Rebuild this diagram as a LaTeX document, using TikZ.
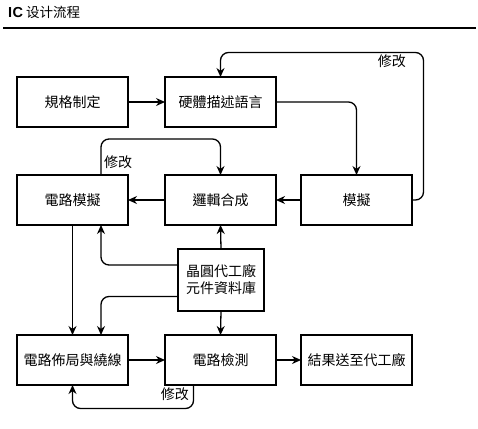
\documentclass[tikz,border=0pt]{standalone}
\usepackage{fontspec}
\setmainfont{Noto Sans CJK TC}
\newfontfamily\titlecjk{Noto Sans CJK SC}
\newfontfamily\titlelat{Liberation Sans}
\usetikzlibrary{arrows.meta}

\begin{document}
\begin{tikzpicture}[
        x=1pt,
        y=-1pt,
        block/.style={
            rectangle,
            draw,
            line width=1.4pt,
            align=center,
            minimum width=111pt,
            minimum height=50pt,
            font=\fontsize{14}{17}\selectfont,
            inner sep=2pt,
            outer sep=0pt
        },
        arrow/.style={
            -{Stealth[length=9pt,width=8pt]},
            line width=1.3pt,
            rounded corners=8pt
        },
        note/.style={
            font=\fontsize{14}{17}\selectfont,
            inner sep=0pt
        }
    ]

        \useasboundingbox (0,0) rectangle (478,428);

        \node[anchor=base west, inner sep=0pt] (title) at (8,18)
            {\titlelat\fontsize{14.5}{16}\selectfont\bfseries I\kern0.5pt C\kern3pt\titlecjk\fontsize{13.5}{15}\selectfont\mdseries 设计流程};
        \draw[line width=2pt] (3,28) -- (476,28);

        \node[block] (spec) at (72.5,102) {規格制定};
        \node[block] (hdl) at (220.5,102) {硬體描述語言};
        \node[block] (csim) at (72.5,200) {電路模擬};
        \node[block] (synth) at (220.5,200) {邏輯合成};
        \node[block] (sim) at (356.5,200) {模擬};
        \node[block, minimum width=86pt, minimum height=62pt] (fab) at (221,280) {晶圓代工廠\\元件資料庫};
        \node[block] (layout) at (72.5,360) {電路佈局與繞線};
        \node[block] (check) at (220.5,360) {電路檢測};
        \node[block] (result) at (356.5,360) {結果送至代工廠};

        \draw[arrow] (spec.east) -- (hdl.west);
        \draw[arrow] (hdl.east) -| (sim.north);
        \draw[arrow] (sim.east) -| (423.5,52.5) -| (hdl.north);
        \node[note, anchor=east] (fix1) at (406,61) {修改};
        \draw[arrow] (sim.west) -- (synth.east);
        \draw[arrow] (synth.west) -- (csim.east);
        \draw[arrow] ([xshift=28.5pt]csim.north) |- (180,139) -| (synth.north);
        \node[note, anchor=west] (fix2) at (104,162) {修改};

        \draw[arrow] (csim.south) -- (layout.north);
        \draw[arrow] ([yshift=15pt]fab.west) -| ([xshift=28.5pt]csim.south);
        \draw[arrow] ([yshift=-16.5pt]fab.west) -| ([xshift=28.5pt]layout.north);
        \draw[arrow] (fab.north) -- (synth.south);
        \draw[arrow] (fab.south) -- (check.north);

        \draw[arrow] (layout.east) -- (check.west);
        \draw[arrow] (check.east) -- (result.west);
        \draw[arrow] ([xshift=-27pt]check.south) |- (120,408.5) -| (layout.south);
        \node[note, anchor=east] (fix3) at (189,394) {修改};

    \end{tikzpicture}
\end{document}
